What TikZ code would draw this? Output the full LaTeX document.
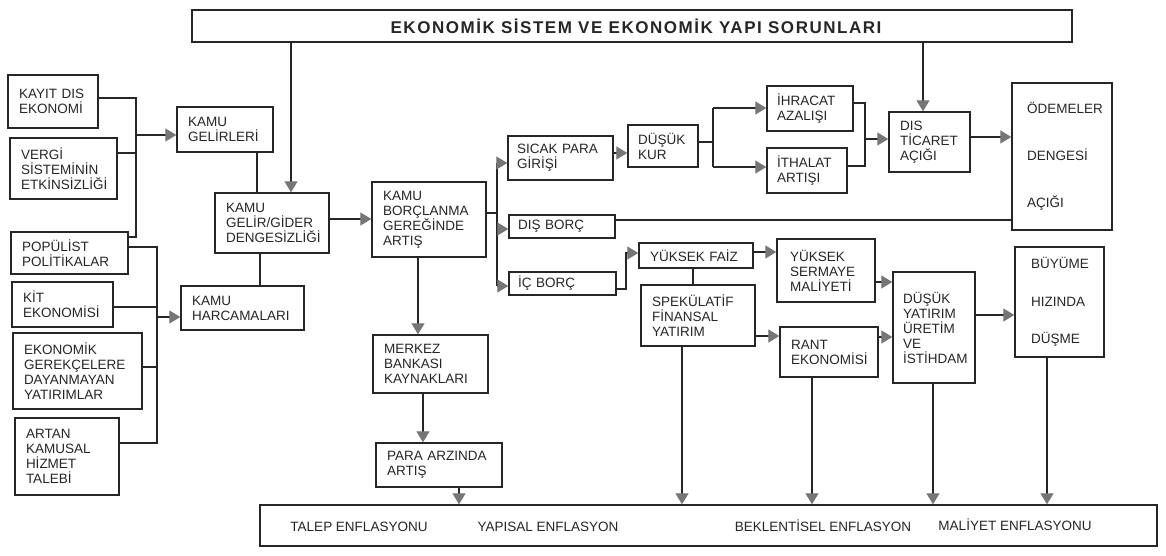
\documentclass[tikz,border=0pt]{standalone}
\usepackage{fontspec}
\setmainfont{Liberation Sans}
\newfontfamily\titlefont[LetterSpace=9]{Liberation Sans}
\usetikzlibrary{arrows.meta}
\definecolor{ink}{HTML}{262626}
\definecolor{tipgray}{HTML}{767676}
\begin{document}
\begin{tikzpicture}[x=1pt,y=-1pt,
  every node/.style={font=\fontsize{13.5}{15}\selectfont, text=ink},
  box/.style={draw=ink, line width=1.4pt, align=left, inner xsep=11pt, inner ysep=2pt, anchor=center},
  conn/.style={draw=ink, line width=1.3pt},
  arr/.style={conn, -{Triangle[length=11pt,width=13pt,color=tipgray]}},
]
\useasboundingbox[fill=white] (0,0) rectangle (1166,556);

% title and bottom band
\node[draw=ink, line width=1.4pt, minimum width=880pt, minimum height=32pt, inner sep=0pt,
      font=\titlefont\fontsize{17}{18}\selectfont\bfseries] (title) at (632,26)
      {\hspace*{8pt}EKONOMİK SİSTEM VE EKONOMİK YAPI SORUNLARI};
\node[draw=ink, line width=1.4pt, minimum width=897pt, minimum height=41pt, inner sep=0pt] (bottom) at (708.5,525.5) {};
\node (talep) at (359,527) {TALEP ENFLASYONU};
\node (yapisal) at (548,527) {YAPISAL ENFLASYON};
\node (beklenti) at (823,526) {BEKLENTİSEL ENFLASYON};
\node (maliyet) at (1015,525) {MALİYET ENFLASYONU};

% left column
\node[box, text width=68pt, minimum height=53pt] (kayit) at (53,101.5) {KAYIT DIS\\EKONOMİ};
\node[box, text width=85pt, minimum height=61pt] (vergi) at (63.5,168.5) {VERGİ\\SİSTEMİNİN\\ETKİNSİZLİĞİ};
\node[box, text width=95pt, minimum height=42pt] (populist) at (69.5,253) {POPÜLİST\\POLİTİKALAR};
\node[box, text width=79pt, minimum height=45pt] (kit) at (62.5,304.5) {KİT\\EKONOMİSİ};
\node[box, text width=107pt, minimum height=76pt] (ekogerek) at (77.5,371) {EKONOMİK\\GEREKÇELERE\\DAYANMAYAN\\YATIRIMLAR};
\node[box, text width=82pt, minimum height=77pt] (artan) at (67,456.5) {ARTAN\\KAMUSAL\\HİZMET\\TALEBİ};

% public finance
\node[box, text width=74pt, minimum height=45pt] (gelirleri) at (225,129.5) {KAMU\\GELİRLERİ};
\node[box, text width=92pt, minimum height=60pt] (gelirgider) at (272,223) {KAMU\\GELİR/GİDER\\DENGESİZLİĞİ};
\node[box, text width=101pt, minimum height=44pt] (harcama) at (242.5,308) {KAMU\\HARCAMALARI};
\node[box, text width=92pt, minimum height=75pt] (borclanma) at (429,219.5) {KAMU\\BORÇLANMA\\GEREĞİNDE\\ARTIŞ};
\node[box, text width=93pt, minimum height=58pt] (merkez) at (430.5,364) {MERKEZ\\BANKASI\\KAYNAKLARI};
\node[box, text width=104pt, minimum height=44pt] (para) at (439,465) {PARA ARZINDA\\ARTIŞ};

% upper chain
\node[box, inner xsep=9pt, text width=87pt, minimum height=44pt] (sicak) at (560.5,158) {SICAK PARA\\GİRİŞİ};
\node[box, inner xsep=10pt, text width=50pt, minimum height=42pt] (dusukkur) at (663,146) {DÜŞÜK\\KUR};
\node[box, inner xsep=10pt, text width=66pt, minimum height=45pt] (ihracat) at (810,108.5) {İHRACAT\\AZALIŞI};
\node[box, inner xsep=10pt, text width=60pt, minimum height=45pt] (ithalat) at (807,170.5) {İTHALAT\\ARTIŞI};
\node[box, inner xsep=11pt, text width=59pt, minimum height=60pt] (disticaret) at (929.5,142) {DIS\\TİCARET\\AÇIĞI};
\node[box, inner xsep=15pt, text width=70pt, minimum height=147pt] (odemeler) at (1062,156.5) {ÖDEMELER\\[32pt]DENGESİ\\[32pt]AÇIĞI};

% debt branches
\node[box, inner xsep=9pt, text width=88pt, minimum height=23pt] (disborc) at (562,226.5) {DIŞ BORÇ};
\node[box, inner xsep=9pt, text width=89pt, minimum height=23pt] (icborc) at (562.5,283.5) {İÇ BORÇ};
\node[box, text width=92pt, minimum height=25pt] (yuksekfaiz) at (696,255.5) {YÜKSEK FAİZ};
\node[box, text width=92pt, minimum height=61pt] (spekulatif) at (698,315.5) {SPEKÜLATİF\\FİNANSAL\\YATIRIM};
\node[box, inner xsep=13pt, text width=72pt, minimum height=63pt] (sermaye) at (826,270.5) {YÜKSEK\\SERMAYE\\MALİYETİ};
\node[box, text width=76pt, minimum height=50pt] (rant) at (829,352) {RANT\\EKONOMİSİ};
\node[box, inner xsep=10pt, text width=62pt, minimum height=111pt] (dusukyat) at (934,327.5) {DÜŞÜK\\YATIRIM\\ÜRETİM\\VE\\İSTİHDAM};
\node[box, inner xsep=16pt, text width=57pt, minimum height=110pt] (buyume) at (1059.5,302) {BÜYÜME\\[22.5pt]HIZINDA\\[22.5pt]DÜŞME};

% ---- connectors ----
% left upper bracket
\coordinate (uTop) at (136,98);
\coordinate (uBot) at (136,237);
\coordinate (uV) at (136,153);
\coordinate (uMid) at (136,135);
\draw[conn] (uTop -| kayit.east) -- (uTop) -- (uBot) -- (uBot -| populist.east);
\draw[conn] (uV -| vergi.east) -- (uV);
\draw[arr] (uMid) -- (uMid -| gelirleri.west);

% left lower bracket
\coordinate (lTop) at (157,247);
\coordinate (lBot) at (157,443);
\coordinate (lKit) at (157,307);
\coordinate (lEko) at (157,367);
\coordinate (lMid) at (157,317);
\draw[conn] (lTop -| populist.east) -- (lTop) -- (lBot) -- (lBot -| artan.east);
\draw[conn] (lKit -| kit.east) -- (lKit);
\draw[conn] (lEko -| ekogerek.east) -- (lEko);
\draw[arr] (lMid) -- (lMid -| harcama.west);

% public finance links
\coordinate (xGel) at (257,0);
\coordinate (xHar) at (260,0);
\coordinate (xT1) at (291,0);
\coordinate (xT2) at (923,0);
\coordinate (yGG) at (0,219);
\coordinate (xB1) at (418,0);
\coordinate (xB2) at (423,0);
\coordinate (xB3) at (459,0);
\draw[conn] (xGel |- gelirleri.south) -- (xGel |- gelirgider.north);
\draw[conn] (xHar |- gelirgider.south) -- (xHar |- harcama.north);
\draw[arr] (xT1 |- title.south) -- (xT1 |- gelirgider.north);
\draw[arr] (xT2 |- title.south) -- (xT2 |- disticaret.north);
\draw[arr] (yGG -| gelirgider.east) -- (yGG -| borclanma.west);
\draw[arr] (xB1 |- borclanma.south) -- (xB1 |- merkez.north);
\draw[arr] (xB2 |- merkez.south) -- (xB2 |- para.north);
\draw[arr] (xB3 |- para.south) -- (xB3 |- bottom.north);

% borrowing branch
\coordinate (jC) at (497,213);
\coordinate (yS) at (0,163);
\coordinate (yD) at (0,229);
\coordinate (yI) at (0,286);
\draw[conn] (jC -| borclanma.east) -- (jC);
\draw[conn] (jC |- yS) -- (jC |- yI);
\draw[arr] (jC |- yS) -- (yS -| sicak.west);
\draw[arr] (jC |- yD) -- (yD -| disborc.west);
\draw[arr] (jC |- yI) -- (yI -| icborc.west);

% hot money chain
\coordinate (ySK) at (0,153);
\draw[arr] (ySK -| sicak.east) -- (ySK -| dusukkur.west);
\coordinate (jD) at (713,142);
\coordinate (yIh) at (0,108);
\coordinate (yIt) at (0,167);
\draw[conn] (jD -| dusukkur.east) -- (jD);
\draw[conn] (jD |- yIh) -- (jD |- yIt);
\draw[arr] (jD |- yIh) -- (yIh -| ihracat.west);
\draw[arr] (jD |- yIt) -- (yIt -| ithalat.west);
\coordinate (jE) at (865,139);
\coordinate (yE1) at (0,103);
\coordinate (yE2) at (0,166);
\draw[conn] (yE1 -| ihracat.east) -- (jE |- yE1) -- (jE |- yE2) -- (yE2 -| ithalat.east);
\draw[arr] (jE) -- (jE -| disticaret.west);
\coordinate (yDT) at (0,137);
\draw[arr] (yDT -| disticaret.east) -- (yDT -| odemeler.west);
\coordinate (yDB) at (0,220);
\draw[conn] (yDB -| disborc.east) -- (yDB -| odemeler.west);

% domestic debt chain
\coordinate (jF) at (626,289);
\coordinate (yYF) at (0,253);
\draw[arr] (jF -| icborc.east) -- (jF) -- (jF |- yYF) -- (yYF -| yuksekfaiz.west);
\coordinate (xYS) at (693,0);
\draw[conn] (xYS |- yuksekfaiz.south) -- (xYS |- spekulatif.north);
\coordinate (yYS) at (0,252);
\draw[arr] (yYS -| yuksekfaiz.east) -- (yYS -| sermaye.west);
\coordinate (ySR) at (0,336);
\draw[arr] (ySR -| spekulatif.east) -- (ySR -| rant.west);
\coordinate (ySD) at (0,282);
\draw[arr] (ySD -| sermaye.east) -- (ySD -| dusukyat.west);
\coordinate (yRD) at (0,337);
\draw[arr] (yRD -| rant.east) -- (yRD -| dusukyat.west);
\coordinate (yDY) at (0,315);
\draw[arr] (yDY -| dusukyat.east) -- (yDY -| buyume.west);

% arrows down to the inflation band
\coordinate (xSp) at (682,0);
\coordinate (xRa) at (812,0);
\coordinate (xDy) at (933,0);
\coordinate (xBu) at (1047,0);
\draw[arr] (xSp |- spekulatif.south) -- (xSp |- bottom.north);
\draw[arr] (xRa |- rant.south) -- (xRa |- bottom.north);
\draw[arr] (xDy |- dusukyat.south) -- (xDy |- bottom.north);
\draw[arr] (xBu |- buyume.south) -- (xBu |- bottom.north);
\end{tikzpicture}
\end{document}
